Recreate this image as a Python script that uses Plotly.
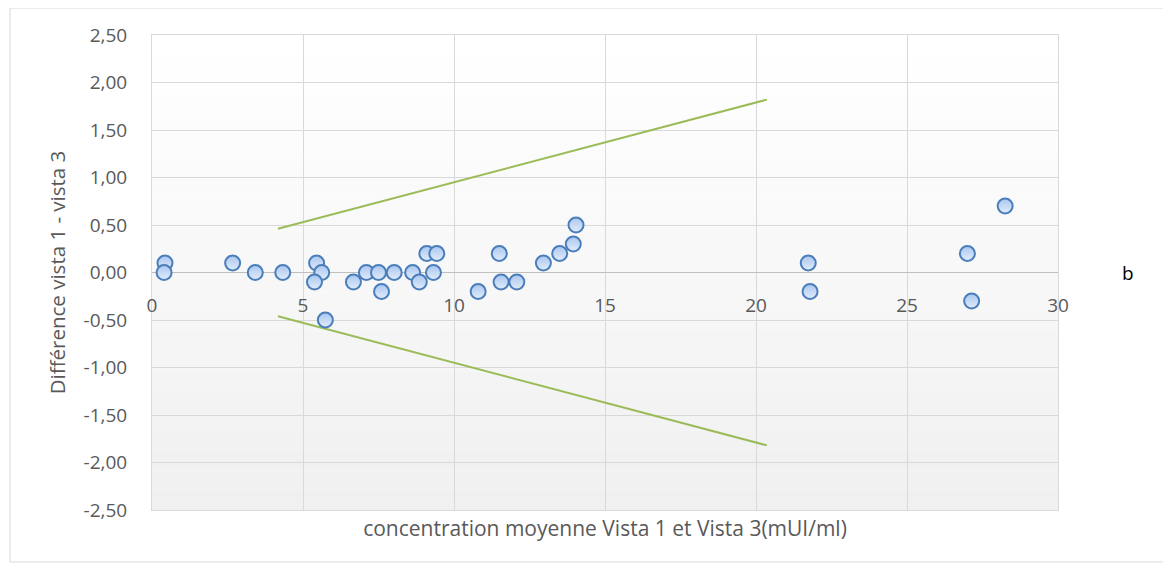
import plotly.graph_objects as go

# ---- data ----
mean_conc = [0.43, 0.40, 2.67, 3.42, 4.33, 5.45, 5.62, 5.38, 5.74, 6.67, 7.10, 7.50, 7.60,
             8.02, 8.63, 8.85, 9.10, 9.43, 9.32, 10.80, 11.50, 11.56, 12.08, 12.96, 13.50,
             13.95, 14.04, 21.73, 21.79, 27.00, 27.14, 28.25]
diff = [0.10, 0.00, 0.10, 0.00, 0.00, 0.10, 0.00, -0.10, -0.50, -0.10, 0.00, 0.00, -0.20,
        0.00, 0.00, -0.10, 0.20, 0.20, 0.00, -0.20, 0.20, -0.10, -0.10, 0.10, 0.20,
        0.30, 0.50, 0.10, -0.20, 0.20, -0.30, 0.70]

upper_x = [4.17, 20.36]
upper_y = [0.46, 1.82]
lower_x = [4.17, 20.36]
lower_y = [-0.46, -1.82]

x_ticks = [0, 5, 10, 15, 20, 25, 30]
x_ticktext = ["0", "5", "10", "15", "20", "25", "30"]
y_ticks = [2.5, 2.0, 1.5, 1.0, 0.5, 0.0, -0.5, -1.0, -1.5, -2.0, -2.5]
y_ticktext = ["2,50", "2,00", "1,50", "1,00", "0,50", "0,00", "-0,50", "-1,00", "-1,50", "-2,00", "-2,50"]

x_title = "concentration moyenne Vista 1 et Vista 3(mUI/ml)"
y_title = "Différence vista 1 - vista 3"
side_label = "b"

FONT = "Open Sans"
TXT = "#595959"
GRID = "#d9d9d9"

fig = go.Figure()

fig.add_trace(go.Scatter(x=upper_x, y=upper_y, mode="lines",
                         line=dict(color="#9bbb59", width=2), showlegend=False, hoverinfo="skip"))
fig.add_trace(go.Scatter(x=lower_x, y=lower_y, mode="lines",
                         line=dict(color="#9bbb59", width=2), showlegend=False, hoverinfo="skip"))
fig.add_trace(go.Scatter(x=mean_conc, y=diff, mode="markers",
                         marker=dict(size=15, color="#a9c6f0",
                                     gradient=dict(type="vertical", color="#e2ecfa"),
                                     line=dict(color="#4a7ebb", width=2)),
                         showlegend=False))
# invisible trace on overlay axis so its tick labels render
fig.add_trace(go.Scatter(x=[x_ticks[0], x_ticks[-1]], y=[0, 0], xaxis="x2", mode="markers",
                         marker=dict(opacity=0), showlegend=False, hoverinfo="skip"))

# subtle vertical gradient of the plot background
n_bands = 24
shapes = []
for i in range(n_bands):
    t = i / (n_bands - 1)
    v = int(round(255 - t * (255 - 240)))
    shapes.append(dict(type="rect", xref="x domain", yref="y domain",
                       x0=0, x1=1, y0=1 - (i + 1) / n_bands, y1=1 - i / n_bands,
                       fillcolor=f"rgb({v},{v},{v})", line=dict(width=0), layer="below"))
# chart outer border
shapes.append(dict(type="rect", xref="paper", yref="paper",
                   x0=-0.1567, x1=1.118, y0=-0.1095, y1=1.0568,
                   line=dict(color="#d9d9d9", width=1), fillcolor="rgba(0,0,0,0)", layer="below"))

fig.update_layout(
    width=1163, height=563,
    margin=dict(l=144, r=113, t=27, b=61),
    paper_bgcolor="white", plot_bgcolor="white",
    font=dict(family=FONT, color=TXT, size=17),
    shapes=shapes,
    xaxis=dict(range=[x_ticks[0], x_ticks[-1]], tickvals=x_ticks, showticklabels=False,
               showgrid=True, gridcolor=GRID, gridwidth=1, zeroline=False,
               showline=True, linecolor=GRID, mirror=True, ticks="",
               title=dict(text=x_title, font=dict(size=21, color=TXT), standoff=11)),
    xaxis2=dict(range=[x_ticks[0], x_ticks[-1]], overlaying="x", anchor="free", position=0.5,
                side="bottom", tickvals=x_ticks, ticktext=x_ticktext, showgrid=False,
                zeroline=False, showline=False, ticks="outside", ticklen=16,
                tickcolor="rgba(0,0,0,0)", tickfont=dict(size=19, color=TXT)),
    yaxis=dict(range=[-2.5, 2.5], tickvals=y_ticks, ticktext=y_ticktext,
               showgrid=True, gridcolor=GRID, gridwidth=1,
               zeroline=True, zerolinecolor="#bfbfbf", zerolinewidth=1,
               showline=True, linecolor=GRID, mirror=True,
               ticks="outside", ticklen=20, tickcolor="rgba(0,0,0,0)",
               tickfont=dict(size=19, color=TXT),
               title=dict(text=y_title, font=dict(size=20.5, color=TXT), standoff=12)),
    annotations=[dict(text=side_label, xref="paper", yref="paper", x=1.086, y=0.5,
                      showarrow=False, font=dict(size=19, color="#000000"))],
)

fig.write_html("out.html")
